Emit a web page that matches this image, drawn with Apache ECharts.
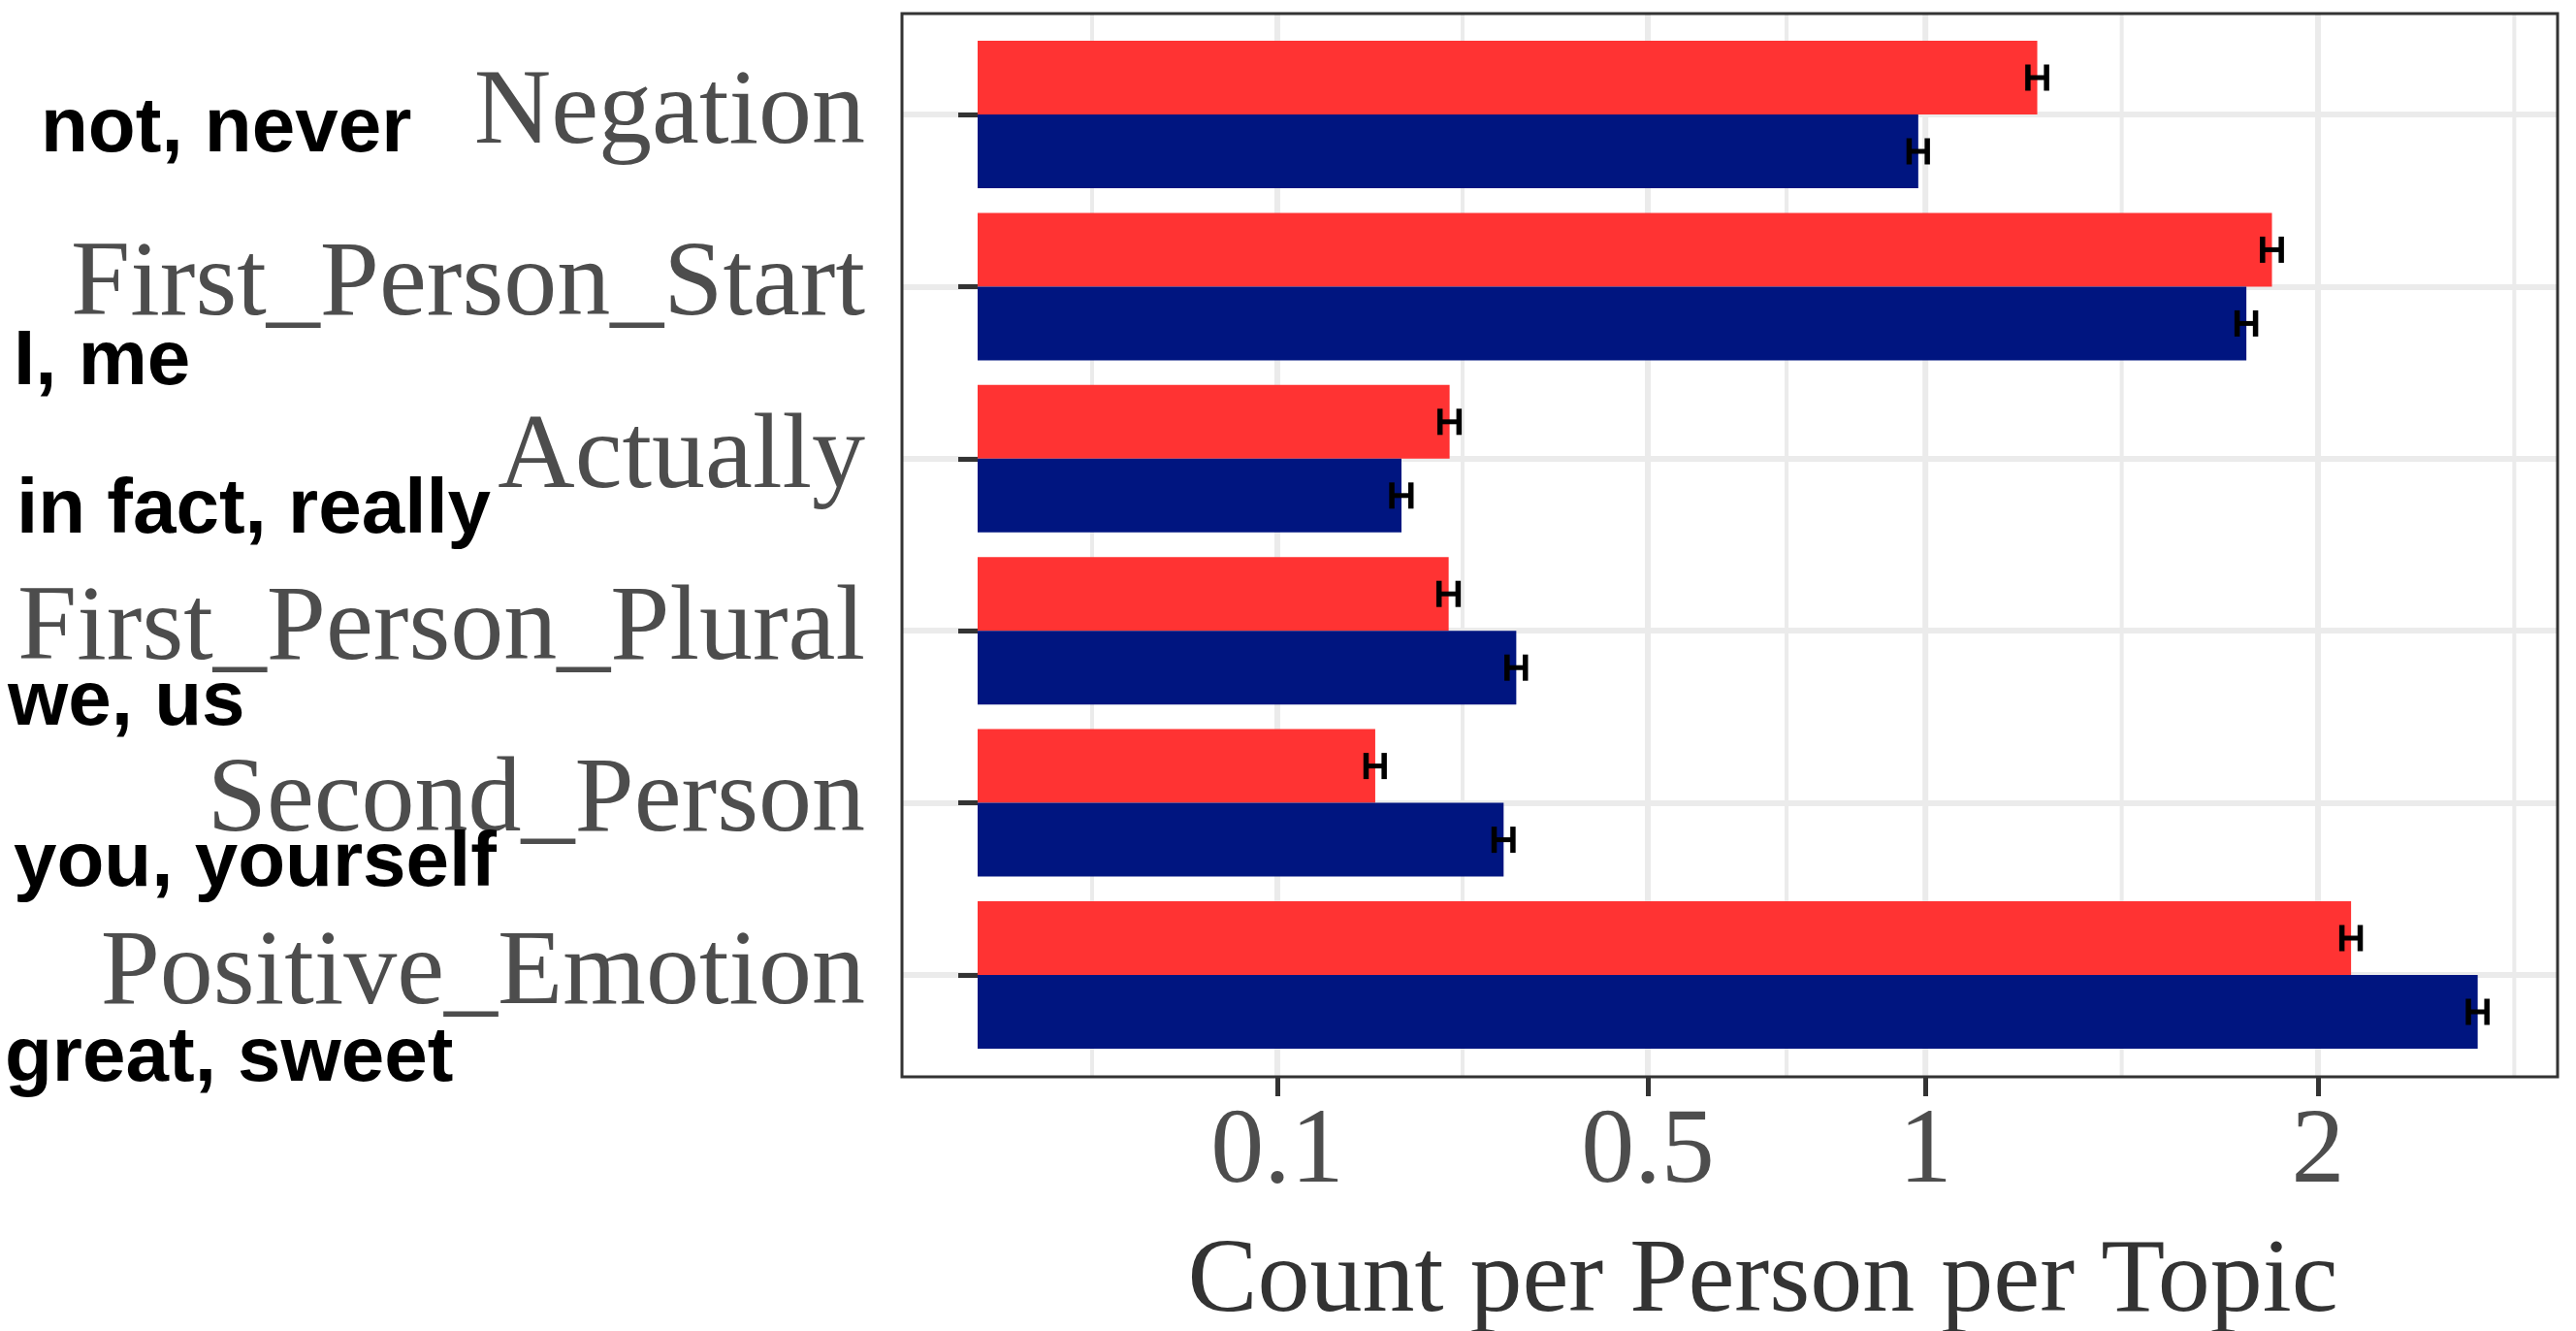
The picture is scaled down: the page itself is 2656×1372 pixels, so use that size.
<!DOCTYPE html>
<html>
<head>
<meta charset="utf-8">
<script src="https://cdn.jsdelivr.net/npm/echarts@6/dist/echarts.min.js"></script>
<style>
html,body{margin:0;padding:0;background:#fff;}
#chart{width:2656px;height:1372px;}
</style>
</head>
<body>
<div id="chart"></div>
<script>
// ---- data ----
const categories = ['Negation', 'First_Person_Start', 'Actually', 'First_Person_Plural', 'Second_Person', 'Positive_Emotion'];
const redValues  = [1.25, 1.865, 0.248, 0.247, 0.176, 2.10];
const redErr     = [0.022, 0.027, 0.010, 0.010, 0.008, 0.028];
const blueValues = [0.985, 1.792, 0.200, 0.323, 0.308, 2.505];
const blueErr    = [0.019, 0.026, 0.009, 0.011, 0.011, 0.031];
const tickValues = [0.1, 0.5, 1, 2];
const annotations = ['not, never', 'I, me', 'in fact, really', 'we, us', 'you, yourself', 'great, sweet'];
const axisTitle = 'Count per Person per Topic';

// ---- square-root scale helpers ----
const SQ = v => Math.sqrt(Math.max(v, 0));
const X_MIN = -0.0798, X_MAX = 1.667;          // axis range in sqrt space
const majorSq = tickValues.map(SQ);
const minorSq = [];
for (let i = 0; i < majorSq.length - 1; i++) minorSq.push((majorSq[i] + majorSq[i + 1]) / 2);
minorSq.unshift(majorSq[0] - (majorSq[1] - majorSq[0]) / 2);
minorSq.push(majorSq[majorSq.length - 1] + (majorSq[majorSq.length - 1] - majorSq[majorSq.length - 2]) / 2);
const gridLineData = majorSq.map(v => [v, 6]).concat(minorSq.map(v => [v, 4]));

const BAR_W = 76;
const RED = '#FF3333', BLUE = '#001580';

function errData(vals, errs) {
  return vals.map((v, i) => [i, SQ(v - errs[i]), SQ(v + errs[i])]);
}
function errRender(offset) {
  return function (params, api) {
    const ci = api.value(0);
    const a = api.coord([api.value(1), ci]);
    const b = api.coord([api.value(2), ci]);
    const y = a[1] + offset;
    const h = 13.5;
    const st = { stroke: '#000', lineWidth: 5.5 };
    return {
      type: 'group',
      children: [
        { type: 'line', shape: { x1: a[0], y1: y, x2: b[0], y2: y }, style: { stroke: '#000', lineWidth: 5 } },
        { type: 'line', shape: { x1: a[0], y1: y - h, x2: a[0], y2: y + h }, style: st },
        { type: 'line', shape: { x1: b[0], y1: y - h, x2: b[0], y2: y + h }, style: st }
      ]
    };
  };
}

const chart = echarts.init(document.getElementById('chart'), null, { renderer: 'canvas' });
const option = {
  animation: false,
  backgroundColor: '#fff',
  grid: [
    { left: 930, top: 14, width: 1707, height: 1096, show: true, borderColor: '#333', borderWidth: 3,
      backgroundColor: 'transparent', z: 10, containLabel: false, outerBoundsMode: 'none' },
    { left: 930, top: 118, width: 1707, height: 887, containLabel: false, outerBoundsMode: 'none' }
  ],
  xAxis: [
    {
      gridIndex: 0, type: 'value', min: X_MIN, max: X_MAX,
      axisLine: { show: false }, splitLine: { show: false },
      axisTick: { show: true, customValues: majorSq, length: 20, lineStyle: { color: '#333', width: 5 } },
      axisLabel: {
        customValues: majorSq, margin: 24,
        formatter: v => String(Math.round(v * v * 1000) / 1000),
        fontFamily: 'Liberation Serif', fontSize: 110, color: '#4D4D4D'
      },
      name: axisTitle, nameLocation: 'middle', nameGap: 159,
      nameTextStyle: { fontFamily: 'Liberation Serif', fontSize: 108, color: '#333', padding: [0, 0, 0, 68] }
    },
    { gridIndex: 1, type: 'value', min: X_MIN, max: X_MAX, show: false }
  ],
  yAxis: [
    { gridIndex: 0, type: 'value', min: 0, max: 1, show: false },
    {
      gridIndex: 1, type: 'category', data: categories, inverse: true, boundaryGap: false,
      axisLine: { show: false },
      axisTick: { show: true, length: 20, lineStyle: { color: '#333', width: 5 } },
      axisLabel: { margin: 38, fontFamily: 'Liberation Serif', fontSize: 110, color: '#4D4D4D', interval: 0,
                   padding: [12, 0, 0, 0] },
      splitLine: { show: true, lineStyle: { color: '#EBEBEB', width: 6 } }
    }
  ],
  series: [
    {
      type: 'custom', name: 'grid', xAxisIndex: 0, yAxisIndex: 0, silent: true, z: 1, clip: false,
      data: gridLineData,
      renderItem: function (params, api) {
        const x = api.coord([api.value(0), 0])[0];
        const cs = params.coordSys;
        return { type: 'line', shape: { x1: x, y1: cs.y, x2: x, y2: cs.y + cs.height },
                 style: { stroke: '#EBEBEB', lineWidth: api.value(1) } };
      }
    },
    {
      type: 'bar', name: 'red', xAxisIndex: 1, yAxisIndex: 1, data: redValues.map(SQ),
      barWidth: BAR_W, barGap: '0%', itemStyle: { color: RED }, clip: false, z: 2
    },
    {
      type: 'bar', name: 'blue', xAxisIndex: 1, yAxisIndex: 1, data: blueValues.map(SQ),
      barWidth: BAR_W, barGap: '0%', itemStyle: { color: BLUE }, clip: false, z: 2
    },
    {
      type: 'custom', name: 'red err', xAxisIndex: 1, yAxisIndex: 1, z: 3, clip: false,
      data: errData(redValues, redErr), encode: { x: [1, 2], y: 0 }, renderItem: errRender(-BAR_W / 2)
    },
    {
      type: 'custom', name: 'blue err', xAxisIndex: 1, yAxisIndex: 1, z: 3, clip: false,
      data: errData(blueValues, blueErr), encode: { x: [1, 2], y: 0 }, renderItem: errRender(BAR_W / 2)
    }
  ],
  graphic: (function () {
    const xs = [42, 14, 17, 8, 14, 5];
    const baselines = [162, 402, 555, 753, 919, 1120];
    return annotations.map((t, i) => ({
      type: 'text', x: xs[i], y: baselines[i] - 28, z: 20,
      style: { text: t, font: 'bold 80px "Liberation Sans"', fill: '#000', verticalAlign: 'middle', align: 'left' }
    }));
  })()
};
chart.setOption(option);
</script>
</body>
</html>
